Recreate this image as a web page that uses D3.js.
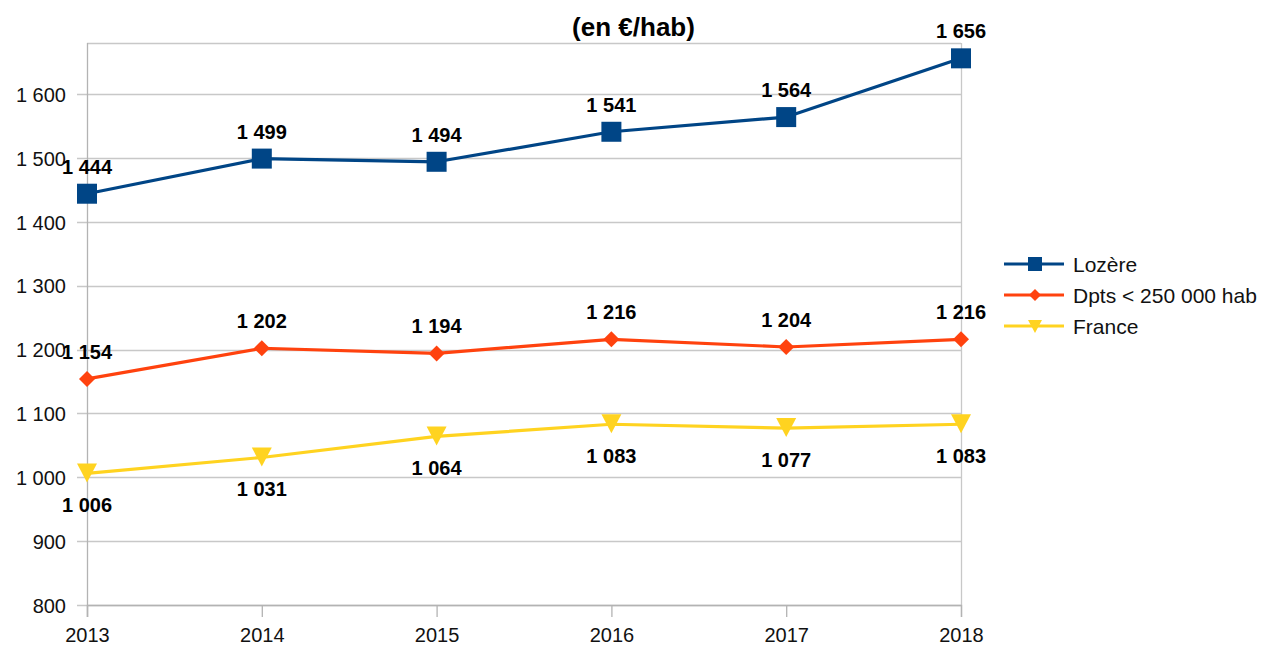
<!DOCTYPE html>
<html><head><meta charset="utf-8">
<script src="https://cdn.jsdelivr.net/npm/d3@7"></script>
<style>body{margin:0;background:#fff}svg{display:block}text{font-family:"Liberation Sans",Arial,sans-serif}</style>
</head><body>
<svg id="c" width="1262" height="646"></svg>
<script>
const years = ["2013","2014","2015","2016","2017","2018"];
const lozere = [1444,1499,1494,1541,1564,1656];
const dpts = [1154,1202,1194,1216,1204,1216];
const france = [1006,1031,1064,1083,1077,1083];
const seriesNames = ["Lozère","Dpts < 250 000 hab","France"];
const yTicks = [800,900,1000,1100,1200,1300,1400,1500,1600];
const title = "(en €/hab)";

const series = [
  {name:seriesNames[0], values:lozere, color:"#004586", marker:"square", labelPos:"above"},
  {name:seriesNames[1], values:dpts, color:"#ff420e", marker:"diamond", labelPos:"above"},
  {name:seriesNames[2], values:france, color:"#ffd320", marker:"tri", labelPos:"below"}
];

const svg = d3.select("#c");
const L=87,R=961,T=43,B=605;
const x = d3.scalePoint().domain(years).range([L,R]).padding(0);
const y = d3.scaleLinear().domain([800,1680]).range([B,T]);
const fmt = v => d3.format(",")(v).replace(/,/g," ");

svg.append("g").selectAll("line").data(yTicks).join("line")
  .attr("x1",L-10).attr("x2",R).attr("y1",d=>Math.round(y(d))+0.5).attr("y2",d=>Math.round(y(d))+0.5)
  .attr("stroke","#c8c8c8").attr("stroke-width",1.3);
svg.append("line").attr("x1",L).attr("x2",R).attr("y1",T+0.5).attr("y2",T+0.5).attr("stroke","#c8c8c8").attr("stroke-width",1.3);
svg.append("line").attr("x1",R+0.5).attr("x2",R+0.5).attr("y1",T).attr("y2",B).attr("stroke","#c8c8c8").attr("stroke-width",1.3);

const yAxis = d3.axisLeft(y).tickValues(yTicks).tickFormat(fmt).tickSize(0).tickPadding(21);
const gy = svg.append("g").attr("transform",`translate(${L},0)`).call(yAxis);
gy.select(".domain").remove();
gy.selectAll("text").attr("font-size",20).attr("fill","#111").attr("dy","0.36em");
svg.append("line").attr("x1",L+0.5).attr("x2",L+0.5).attr("y1",T).attr("y2",B+12).attr("stroke","#b3b3b3").attr("stroke-width",1.3);

const xAxis = d3.axisBottom(x).tickSize(12);
const gx = svg.append("g").attr("transform",`translate(0,${B})`).call(xAxis);
gx.select(".domain").attr("stroke","#b3b3b3").attr("stroke-width",1.3);
gx.selectAll(".tick line").attr("stroke","#b3b3b3").attr("stroke-width",1.3);
gx.selectAll("text").attr("font-size",20).attr("fill","#111").attr("y",37).attr("dy",null);

svg.append("text").attr("x",633.5).attr("y",36).attr("text-anchor","middle")
  .attr("font-size",26).attr("font-weight","bold").attr("fill","#000").text(title);

function drawMarker(g, type, cx, cy, color){
  if(type==="square"){
    g.append("rect").attr("x",cx-10).attr("y",cy-10).attr("width",20).attr("height",20).attr("fill",color);
  } else if(type==="diamond"){
    g.append("path").attr("d",`M${cx},${cy-8}L${cx+8},${cy}L${cx},${cy+8}L${cx-8},${cy}Z`).attr("fill",color);
  } else {
    g.append("path").attr("d",`M${cx-10},${cy-10}L${cx+10},${cy-10}L${cx},${cy+9}Z`).attr("fill",color);
  }
}

const line = d3.line().x((d,i)=>x(years[i])).y(d=>y(d));
series.forEach(s=>{
  svg.append("path").datum(s.values).attr("d",line).attr("fill","none")
    .attr("stroke",s.color).attr("stroke-width",3.2).attr("stroke-linejoin","round");
  const g = svg.append("g");
  s.values.forEach((v,i)=>drawMarker(g,s.marker,x(years[i]),y(v),s.color));
});
series.forEach(s=>{
  svg.append("g").selectAll("text").data(s.values).join("text")
    .attr("x",(d,i)=>x(years[i])).attr("y",d=>y(d)+(s.labelPos==="above"?-20:39))
    .attr("text-anchor","middle").attr("font-size",20).attr("font-weight","bold").attr("fill","#000")
    .text(fmt);
});

const lg = svg.append("g");
series.forEach((s,i)=>{
  const ly = 264 + i*31;
  lg.append("line").attr("x1",1004).attr("x2",1064).attr("y1",ly).attr("y2",ly).attr("stroke",s.color).attr("stroke-width",3.2);
  const gm = lg.append("g");
  if(s.marker==="square") gm.append("rect").attr("x",1028).attr("y",ly-7).attr("width",14).attr("height",14).attr("fill",s.color);
  else if(s.marker==="diamond") gm.append("path").attr("d",`M1035,${ly-6}L1041,${ly}L1035,${ly+6}L1029,${ly}Z`).attr("fill",s.color);
  else gm.append("path").attr("d",`M1028,${ly-6}L1042,${ly-6}L1035,${ly+7}Z`).attr("fill",s.color);
  lg.append("text").attr("x",1073).attr("y",ly+7.5).attr("font-size",21).attr("fill","#111").text(s.name);
});
</script>
</body></html>
